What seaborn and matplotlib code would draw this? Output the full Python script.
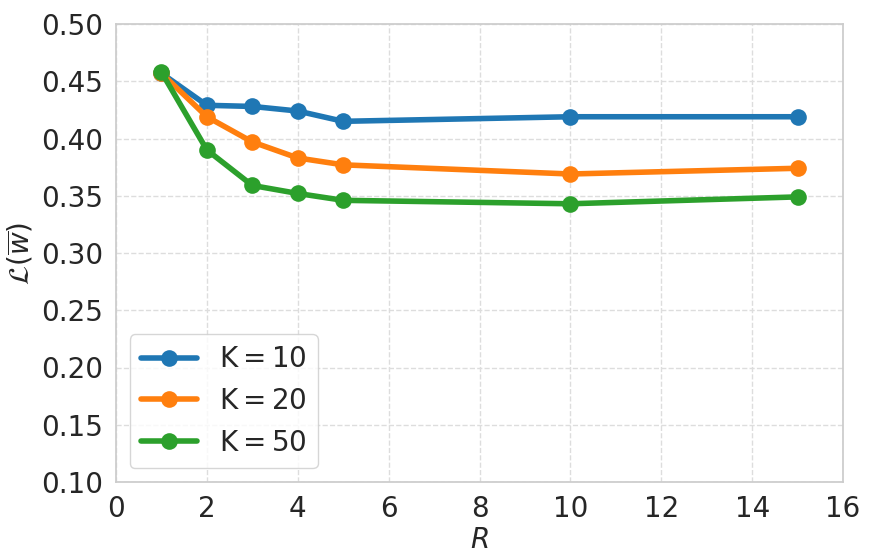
import matplotlib
matplotlib.use("Agg")
import matplotlib.pyplot as plt
import seaborn as sns
import pandas as pd

R = [1, 2, 3, 4, 5, 10, 15]
loss_k10 = [0.457, 0.429, 0.428, 0.424, 0.415, 0.419, 0.419]
loss_k20 = [0.457, 0.419, 0.397, 0.383, 0.377, 0.369, 0.374]
loss_k50 = [0.458, 0.390, 0.359, 0.352, 0.346, 0.343, 0.349]
labels = [r"$\mathrm{K}=10$", r"$\mathrm{K}=20$", r"$\mathrm{K}=50$"]

rows = []
for lab, vals in zip(labels, [loss_k10, loss_k20, loss_k50]):
    for r, v in zip(R, vals):
        rows.append({"R": r, "loss": v, "K": lab})
df = pd.DataFrame(rows)

sns.set_theme(style="whitegrid", rc={"grid.linestyle": "--", "grid.color": "#dddddd"})
plt.rcParams['font.family'] = ['DejaVu Sans']

fig = plt.figure(figsize=(8.69, 5.55), dpi=100)
ax = fig.add_axes([116/869, 1-482/555, (843-116)/869, (482-24)/555])
palette = ["#1f77b4", "#ff7f0e", "#2ca02c"]
sns.lineplot(data=df, x="R", y="loss", hue="K", palette=palette, marker="o",
             markersize=12, markeredgewidth=0, linewidth=4, ax=ax)
ax.set_xlim(0, 16)
ax.set_ylim(0.10, 0.50)
ax.set_xticks(range(0, 17, 2))
ax.set_yticks([0.10, 0.15, 0.20, 0.25, 0.30, 0.35, 0.40, 0.45, 0.50])
ax.tick_params(labelsize=20)
ax.set_xlabel(r"$R$", fontsize=20, labelpad=2)
ax.set_ylabel(r"$\mathcal{L}(\overline{w})$", fontsize=20)
ax.legend(loc="lower left", fontsize=20, borderaxespad=0.5)
fig.savefig("out.png", dpi=100)
